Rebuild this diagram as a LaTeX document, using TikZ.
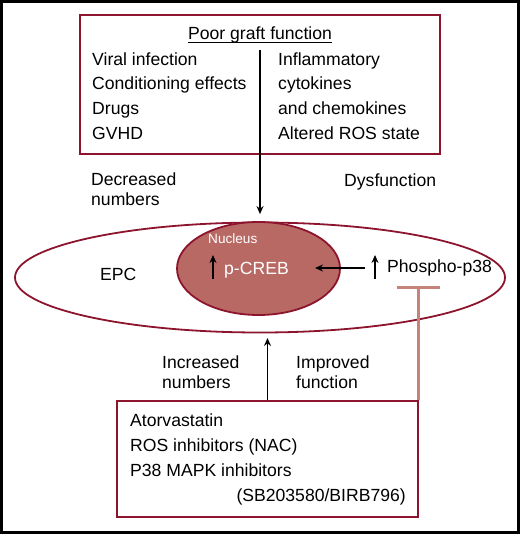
\documentclass[tikz,border=0pt]{standalone}
\usepackage{fontspec}
\setmainfont{Liberation Sans}
\usetikzlibrary{shapes.geometric,arrows.meta}
\definecolor{graftred}{RGB}{140,20,45}
\definecolor{nucfill}{RGB}{185,105,100}
\definecolor{blockred}{RGB}{196,132,122}

\begin{document}
\begin{tikzpicture}[x=1pt, y=-1pt, >={Stealth[length=8pt,width=7pt]},
        font=\fontsize{17.6}{24.7}\selectfont,
        txt/.style={anchor=base west, inner sep=0pt},
        redbox/.style={draw=graftred, line width=1.8pt, rectangle, inner sep=0pt},
        cell/.style={draw=graftred, line width=1.8pt, ellipse, inner sep=0pt},
        inhibit/.style={draw=blockred, line width=3pt}]
        \useasboundingbox (0,0) rectangle (520,534);
        \draw[line width=3pt] (1.5,1.5) rectangle (518.5,532.5);

        % Poor graft function box
        \node[redbox, minimum width=360pt, minimum height=139pt] (graft) at (260,84.5) {};
        \node[anchor=base, inner sep=0pt] (title) at (260,40) {Poor graft function};
        \draw[line width=1pt] ([yshift=-2.3pt]title.base west) -- ([yshift=-2.3pt]title.base east);
        \node[txt] (viral) at (92,65.5) {Viral infection};
        \node[txt] (cond) at (92,90) {Conditioning effects};
        \node[txt] (drugs) at (92,115) {Drugs};
        \node[txt] (gvhd) at (92,140) {GVHD};
        \node[txt] (infl) at (278,65.5) {Inflammatory};
        \node[txt] (cyto) at (278,90) {cytokines};
        \node[txt] (chemo) at (278,115) {and chemokines};
        \node[txt] (ros) at (278,140) {Altered ROS state};

        % Cell and nucleus
        \node[cell, minimum width=490pt, minimum height=110pt] (epc) at (260,277.5) {};
        \node[cell, fill=nucfill, minimum width=163pt, minimum height=93pt] (nucleus) at (258.5,268.5) {};
        \node[txt] (epclabel) at (100,280) {EPC};
        \node[txt, white, font=\fontsize{13.6}{16}\selectfont] (nuclabel) at (208,243) {Nucleus};
        \node[txt, white] (creb) at (224,274) {p-CREB};
        \node[txt] (p38) at (387,272) {Phospho-p38};
        \draw[->, line width=1.4pt] (213,279) -- (213,255);
        \draw[->, line width=1.4pt] (375,279) -- (375,255);

        % Effects on the cell
        \node[txt] (decr) at (91,186) {Decreased};
        \node[txt] (decr2) at (91,206) {numbers};
        \node[txt] (dysf) at (344,187) {Dysfunction};
        \node[txt] (incr) at (162,368) {Increased};
        \node[txt] (incr2) at (162,388) {numbers};
        \node[txt] (impr) at (296,368) {Improved};
        \node[txt] (impr2) at (296,388) {function};

        % Treatment box
        \node[redbox, minimum width=301pt, minimum height=116pt] (treat) at (267.5,459) {};
        \node[txt] (atorva) at (130,426.5) {Atorvastatin};
        \node[txt] (rosinh) at (130,451.5) {ROS inhibitors (NAC)};
        \node[txt] (mapk) at (130,476.5) {P38 MAPK inhibitors};
        \node[anchor=base east, inner sep=0pt] (sb) at (406,501) {(SB203580/BIRB796)};

        % Connections
        \coordinate (split) at (260,50);
        \coordinate (crebin) at (315,268);
        \coordinate (p38out) at (365,268);
        \coordinate (cellin) at (267.5,338);
        \coordinate (block) at (418,287);
        \draw[->, line width=1.5pt] (split) -- ([yshift=7.5pt]epc.north);
        \draw[->, line width=1.5pt] (p38out) -- (crebin);
        \draw[->, line width=1.5pt] (treat.north) -- (cellin);
        \draw[inhibit] (block |- treat.north) -- (block);
        \draw[inhibit] (397,287) -- (440,287);
\end{tikzpicture}
\end{document}
